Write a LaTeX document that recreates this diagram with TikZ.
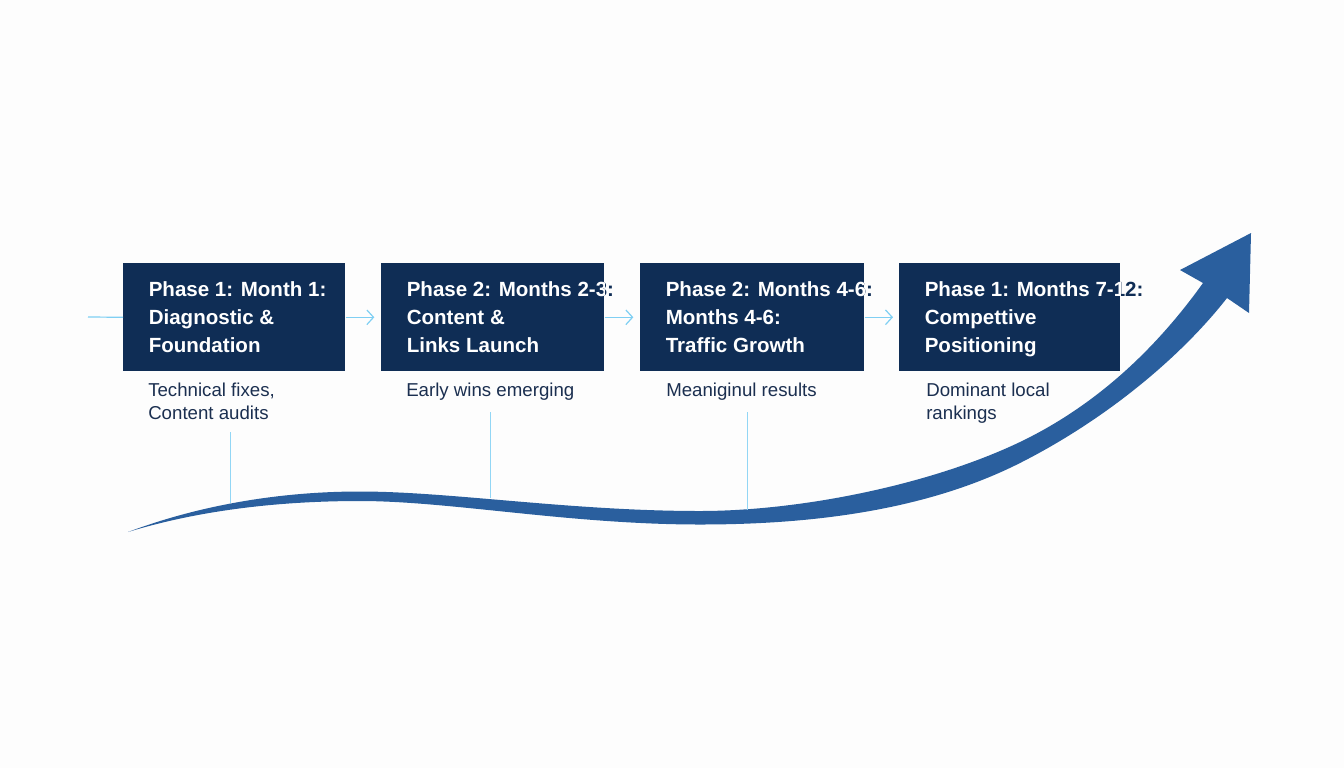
\documentclass[tikz,border=0pt]{standalone}
\usepackage{fontspec}
\setmainfont{Liberation Sans}
\usetikzlibrary{arrows.meta}
\definecolor{navy}{HTML}{0F2D55}
\definecolor{ink}{HTML}{1B2F50}
\definecolor{sky}{HTML}{7FCFF3}
\definecolor{ribbon}{HTML}{2A5F9E}
\definecolor{paper}{HTML}{FDFDFD}
\tikzset{
  phasebox/.style={fill=navy,draw=none,minimum width=#1,minimum height=81pt,inner sep=0pt,anchor=north west},
  headtext/.style={anchor=base west,inner sep=0pt,font=\fontsize{15.4}{18}\selectfont\bfseries},
  subtext/.style={anchor=base west,inner sep=0pt,text=ink,font=\fontsize{14}{16}\selectfont},
  flowline/.style={draw=sky,line width=0.9pt},
  flowarrow/.style={flowline,-{Straight Barb[length=5pt,width=11pt,line width=0.9pt]}},
  tieline/.style={draw=sky!85!white,line width=0.7pt},
}
\newcommand{\phasetext}[5]{%
  \node[headtext,text=navy] at (#2+25.5,296) {#3};
  \begin{scope}
    \clip (#1.north west) rectangle (#1.south east);
    \node[headtext,text=white] at (#2+25.5,296) {#3};
  \end{scope}
  \node[headtext,text=white] at (#2+25.5,324) {#4};
  \node[headtext,text=white] at (#2+25.5,352) {#5};
}
\begin{document}
\begin{tikzpicture}[x=0.75pt,y=-0.75pt]
\useasboundingbox (0,0) rectangle (1344,768);
\fill[paper] (0,0) rectangle (1344,768);

% ribbon arrow
\fill[ribbon] (128,532)
  .. controls (200,505) and (280,491.5) .. (360,491.5)
  .. controls (450,491.5) and (570,511) .. (700,511)
  .. controls (800,511) and (930,485) .. (1020,442)
  .. controls (1095,406) and (1155,350) .. (1203,283)
  -- (1180,270) -- (1251,233) -- (1249,313) -- (1227,298)
  .. controls (1180,358) and (1105,420) .. (1020,463)
  .. controls (925,511) and (810,524.5) .. (700,524.5)
  .. controls (570,524.5) and (450,501) .. (360,501)
  .. controls (280,501) and (200,510) .. (128,532) -- cycle;

% boxes
\node[phasebox=166.5pt] (b1) at (123,263) {};
\node[phasebox=167.25pt] (b2) at (381,263) {};
\node[phasebox=168pt] (b3) at (640,263) {};
\node[phasebox=165.75pt] (b4) at (899,263) {};

% connectors
\coordinate (start) at (88,317);
\draw[flowline] (start) -- (b1.west);
\draw[flowarrow,shorten >=5pt] (b1.east) -- (b2.west);
\draw[flowarrow,shorten >=5pt] (b2.east) -- (b3.west);
\draw[flowarrow,shorten >=4.5pt] (b3.east) -- (b4.west);

% ties to ribbon
\coordinate (t1a) at (230,432); \coordinate (t1b) at (230,503);
\coordinate (t2a) at (490,412); \coordinate (t2b) at (490,498);
\coordinate (t3a) at (747,412); \coordinate (t3b) at (747,510);
\draw[tieline] (t1a) -- (t1b);
\draw[tieline] (t2a) -- (t2b);
\draw[tieline] (t3a) -- (t3b);

% headings
\phasetext{b1}{123}{Phase 1: Month 1:}{Diagnostic \&}{Foundation}
\phasetext{b2}{381}{Phase 2: Months 2-3:}{Content \&}{Links Launch}
\phasetext{b3}{640}{Phase 2: Months 4-6:}{Months 4-6:}{Traffic Growth}
\phasetext{b4}{899}{Phase 1: Months 7-12:}{Compettive}{Positioning}

% captions
\node[subtext] (c1a) at (148,396) {Technical fixes,};
\node[subtext] (c1b) at (148,419) {Content audits};
\node[subtext] (c2) at (406,396) {Early wins emerging};
\node[subtext] (c3) at (666,396) {Meaniginul results};
\node[subtext] (c4a) at (926,396) {Dominant local};
\node[subtext] (c4b) at (926,419) {rankings};
\end{tikzpicture}
\end{document}
